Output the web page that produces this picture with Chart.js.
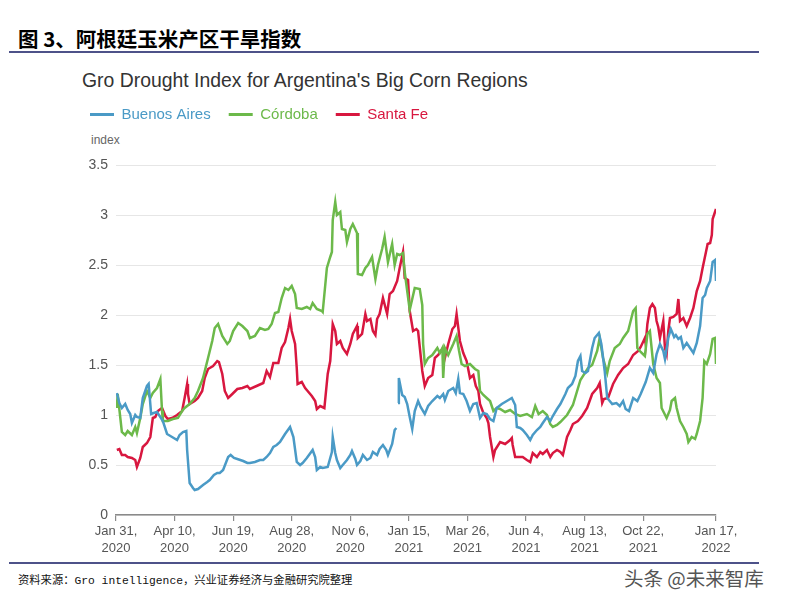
<!DOCTYPE html>
<html>
<head>
<meta charset="utf-8">
<script src="https://cdn.jsdelivr.net/npm/chart.js@4.4.1/dist/chart.umd.min.js"></script>
<style>
  body { margin: 0; background: #fff; width: 786px; height: 603px; position: relative; overflow: hidden; }
  .head { position: absolute; left: 18px; top: 23px; font: bold 20.5px "Noto Sans CJK SC", sans-serif; color: #000; }
  .rule { position: absolute; left: 9px; width: 750px; height: 2px; background: #4d5289; }
  .title { position: absolute; left: 82px; top: 69px; font: 19.4px "Liberation Sans", Arial, sans-serif; color: #333; }
  .unit { position: absolute; left: 91px; top: 133px; font: 12px "Liberation Sans", Arial, sans-serif; color: #666; }
  .src { position: absolute; left: 18px; top: 571px; font: 11.3px "Liberation Mono", "Noto Sans CJK SC", monospace; color: #111; }
  .mark { position: absolute; left: 624px; top: 563px; font: 19.5px "Noto Sans CJK SC", sans-serif; color: #555; }
  #wrap { position: absolute; left: 0; top: 60px; width: 786px; height: 500px; }
</style>
</head>
<body>
<div class="head">图 3、阿根廷玉米产区干旱指数</div>
<div class="rule" style="top:51px"></div>
<div class="title">Gro Drought Index for Argentina's Big Corn Regions</div>
<div class="unit">index</div>
<div id="wrap"><canvas id="myChart"></canvas></div>
<div class="rule" style="top:562px"></div>
<div class="src">资料来源：Gro intelligence，兴业证券经济与金融研究院整理</div>
<div class="mark">头条 @未来智库</div>
<script>
// days since Jan 31, 2020
var tickDays = [0, 70, 140, 210, 280, 350, 420, 490, 560, 630, 717];
var tickLabels = [['Jan 31,', '2020'], ['Apr 10,', '2020'], ['Jun 19,', '2020'], ['Aug 28,', '2020'], ['Nov 6,', '2020'],
    ['Jan 15,', '2021'], ['Mar 26,', '2021'], ['Jun 4,', '2021'], ['Aug 13,', '2021'], ['Oct 22,', '2021'], ['Jan 17,', '2022']];
var yTicks = [0, 0.5, 1, 1.5, 2, 2.5, 3, 3.5];

var baDays = [1, 4, 7, 11, 14, 17, 19, 23, 25, 29, 32, 37, 39, 42, 45, 49, 53, 56, 61, 67, 73, 76, 80, 84, 85, 88, 92, 94, 98, 104,
    109, 112, 117, 121, 124, 128, 134, 137, 141, 145, 152, 157, 160, 166, 172, 176, 180, 184, 188, 192, 196, 202, 208, 212, 216,
    220, 223, 228, 235, 238, 240, 244, 247, 253, 258, 259, 262, 264, 268, 271, 276, 280, 282, 286, 288, 292, 295, 300, 304, 307,
    312, 315, 319, 323, 325, 330, 333, 335, 336, 337, 338, 342, 345, 348, 351, 354, 357, 361, 364, 369, 373, 378, 384, 387, 391,
    393, 397, 403, 406, 409, 411, 415, 419, 423, 427, 431, 435, 439, 443, 447, 451, 455, 461, 467, 473, 477, 479, 483, 486, 491,
    495, 498, 503, 507, 510, 515, 519, 522, 527, 531, 537, 540, 545, 549, 552, 555, 557, 561, 564, 569, 572, 577, 580, 584, 587,
    590, 593, 598, 602, 606, 609, 613, 618, 623, 627, 630, 633, 638, 642, 646, 650, 654, 656, 660, 663, 667, 669, 672, 675, 678,
    682, 686, 690, 694, 698, 701, 704, 706, 710, 713, 716, 717];
var baIndex = [1.22, 1.12, 1.07, 1.11, 1.05, 1.01, 0.92, 1.0, 0.98, 0.97, 1.17, 1.29, 1.31, 1.01, 1.02, 1.03, 0.98, 0.94, 0.81, 0.78,
    0.75, 0.8, 0.83, 0.84, 0.65, 0.32, 0.27, 0.25, 0.26, 0.3, 0.33, 0.35, 0.4, 0.42, 0.42, 0.45, 0.58, 0.6, 0.57, 0.56, 0.54, 0.52,
    0.52, 0.53, 0.55, 0.55, 0.58, 0.62, 0.68, 0.7, 0.73, 0.81, 0.88, 0.78, 0.53, 0.5, 0.52, 0.57, 0.65, 0.58, 0.45, 0.48, 0.47,
    0.48, 0.63, 0.78, 0.62, 0.55, 0.47, 0.5, 0.55, 0.6, 0.64, 0.56, 0.5, 0.54, 0.6, 0.55, 0.57, 0.63, 0.6, 0.66, 0.7, 0.65, 0.6,
    0.71, 0.85, 0.87, null, 1.12, 1.37, 1.2, 1.18, 1.11, 0.98, 0.86, 1.04, 1.14, 1.08, 1.01, 1.09, 1.14, 1.19, 1.17, 1.21, 1.15,
    1.24, 1.27, 1.22, 1.36, 1.22, 1.21, 1.14, 1.04, 1.11, 1.12, 0.97, 1.02, 1.01, 0.96, 0.94, 1.07, 1.11, 1.14, 1.17, 1.1, 0.88,
    0.87, 0.85, 0.8, 0.75, 0.8, 0.85, 0.88, 0.92, 0.98, 0.94, 0.99, 1.06, 1.11, 1.21, 1.27, 1.31, 1.39, 1.54, 1.59, 1.44, 1.42,
    1.44, 1.67, 1.77, 1.82, 1.71, 1.44, 1.17, 1.14, 1.11, 1.12, 1.09, 1.14, 1.06, 1.04, 1.17, 1.14, 1.21, 1.27, 1.33, 1.47, 1.42,
    1.61, 1.71, 1.64, 1.56, 1.77, 1.86, 1.78, 1.8, 1.76, 1.78, 1.67, 1.72, 1.67, 1.62, 1.72, 1.89, 2.17, 2.2, 2.27, 2.34, 2.53,
    2.55, 2.34];

var cordobaDays = [1, 2, 7, 11, 14, 19, 23, 25, 29, 32, 37, 41, 44, 49, 53, 55, 56, 62, 68, 74, 79, 82, 88, 94, 98, 104, 110, 115,
    118, 122, 127, 133, 136, 140, 146, 151, 157, 160, 166, 172, 178, 182, 186, 190, 194, 198, 202, 206, 210, 214, 216, 222, 228,
    232, 235, 240, 246, 247, 252, 256, 258, 259, 262, 264, 268, 270, 274, 276, 280, 283, 288, 289, 294, 298, 301, 306, 310, 313,
    318, 321, 325, 330, 333, 336, 339, 343, 345, 351, 357, 363, 366, 367, 369, 373, 378, 384, 387, 390, 391, 393, 397, 403, 407,
    410, 413, 417, 423, 429, 433, 435, 439, 443, 447, 451, 455, 459, 465, 471, 477, 483, 491, 497, 501, 505, 510, 515, 519, 522,
    527, 531, 539, 546, 555, 564, 569, 575, 578, 582, 587, 590, 596, 602, 606, 612, 618, 621, 623, 627, 632, 635, 638, 642, 646,
    650, 652, 658, 662, 664, 668, 670, 674, 678, 682, 684, 688, 692, 694, 698, 701, 703, 706, 710, 713, 716, 717];
var cordobaIndex = [1.07, 1.21, 0.83, 0.8, 0.84, 0.8, 0.88, 0.82, 0.97, 1.11, 1.24, 1.17, 1.22, 1.27, 1.36, 1.04, 0.94, 0.94, 0.96,
    0.97, 1.04, 1.07, 1.11, 1.17, 1.24, 1.37, 1.57, 1.74, 1.87, 1.91, 1.79, 1.71, 1.74, 1.84, 1.92, 1.89, 1.84, 1.77, 1.79, 1.87,
    1.85, 1.86, 1.91, 2.02, 2.03, 2.17, 2.27, 2.25, 2.29, 2.21, 2.07, 2.06, 2.08, 2.06, 2.12, 2.06, 2.04, 2.03, 2.47, 2.58, 2.63,
    2.95, 3.13, 3.0, 3.03, 2.86, 2.85, 2.73, 2.86, 2.91, 2.82, 2.41, 2.4, 2.47, 2.5, 2.58, 2.36, 2.5, 2.66, 2.78, 2.53, 2.71, 2.5,
    2.61, 2.6, 2.62, 2.43, 2.05, 2.27, 2.26, 2.1, 1.71, 1.51, 1.57, 1.6, 1.67, 1.62, 1.67, 1.37, 1.67, 1.6, 1.71, 1.79, 1.64, 1.51,
    1.49, 1.51, 1.46, 1.44, 1.24, 1.2, 1.17, 1.14, 1.04, 1.07, 1.06, 1.03, 1.05, 1.01, 0.99, 1.01, 0.98, 1.09, 1.01, 1.04, 1.0,
    0.91, 0.88, 0.9, 0.93, 1.0, 1.1, 1.35, 1.47, 1.5, 1.64, 1.77, 1.57, 1.42, 1.54, 1.67, 1.71, 1.77, 1.84, 2.04, 2.07, 1.67,
    1.63, 1.59, 1.81, 1.84, 1.51, 1.37, 1.32, 1.07, 0.97, 1.05, 1.14, 1.17, 1.07, 0.94, 0.88, 0.81, 0.73, 0.78, 0.76, 0.81, 0.94,
    1.17, 1.54, 1.51, 1.61, 1.76, 1.77, 1.51];

var santaFeDays = [1, 4, 7, 11, 14, 19, 23, 25, 29, 32, 37, 41, 44, 47, 50, 55, 59, 62, 67, 73, 79, 82, 85, 86, 88, 94, 98, 103, 106,
    110, 116, 121, 123, 127, 130, 134, 139, 145, 151, 157, 160, 168, 176, 180, 184, 188, 194, 198, 202, 206, 208, 210, 214, 216,
    217, 222, 226, 229, 234, 238, 240, 244, 249, 253, 256, 259, 262, 264, 268, 271, 276, 280, 283, 288, 289, 294, 298, 300, 304,
    307, 310, 312, 315, 319, 324, 327, 331, 336, 339, 343, 345, 349, 351, 355, 359, 361, 366, 369, 373, 378, 381, 385, 390, 393,
    397, 402, 405, 407, 411, 415, 419, 423, 427, 430, 433, 435, 439, 443, 445, 447, 451, 453, 459, 465, 471, 473, 474, 477, 483,
    486, 491, 495, 498, 503, 507, 510, 515, 519, 522, 527, 531, 534, 539, 543, 546, 552, 557, 563, 569, 575, 578, 581, 583, 588,
    594, 600, 606, 612, 618, 624, 627, 632, 633, 635, 638, 641, 644, 646, 648, 650, 654, 656, 658, 660, 662, 666, 670, 672, 674,
    678, 682, 686, 690, 694, 698, 701, 705, 707, 710, 712, 713, 717];
var santaFeIndex = [0.65, 0.66, 0.6, 0.6, 0.58, 0.57, 0.55, 0.48, 0.57, 0.68, 0.72, 0.78, 0.97, 0.98, 1.04, 1.07, 0.99, 0.96, 0.97,
    1.0, 1.04, 1.17, 1.31, 1.21, 1.11, 1.14, 1.17, 1.24, 1.37, 1.46, 1.49, 1.54, 1.53, 1.41, 1.24, 1.17, 1.21, 1.26, 1.27, 1.29,
    1.26, 1.29, 1.32, 1.44, 1.38, 1.52, 1.52, 1.67, 1.73, 1.87, 1.96, 1.84, 1.71, 1.47, 1.31, 1.33, 1.27, 1.24, 1.19, 1.14, 1.06,
    1.09, 1.07, 1.41, 1.54, 1.91, 1.84, 1.71, 1.74, 1.67, 1.61, 1.71, 1.81, 1.89, 1.77, 1.81, 2.01, 1.94, 1.96, 1.84, 1.8, 1.96,
    2.01, 2.17, 2.01, 2.21, 2.24, 2.34, 2.47, 2.63, 2.37, 2.35, 2.04, 1.84, 1.86, 1.84, 1.44, 1.29, 1.37, 1.4, 1.57, 1.6, 1.66,
    1.57, 1.71, 1.86, 1.89, 2.01, 1.74, 1.62, 1.54, 1.37, 1.4, 1.29, 1.24, 1.11, 1.02, 0.97, 0.92, 0.78, 0.58, 0.65, 0.73, 0.71,
    0.75, 0.77, 0.7, 0.58, 0.58, 0.58, 0.55, 0.53, 0.62, 0.58, 0.63, 0.61, 0.65, 0.58, 0.62, 0.65, 0.63, 0.6, 0.78, 0.85, 0.91,
    0.94, 0.99, 1.07, 1.21, 1.27, 1.32, 1.12, 1.16, 1.17, 1.31, 1.4, 1.47, 1.51, 1.6, 1.64, 1.68, 1.77, 1.71, 1.91, 2.07, 2.11,
    2.07, 1.94, 1.88, 1.77, 1.94, 1.67, 1.61, 1.84, 1.97, 1.98, 2.01, 2.16, 1.94, 1.97, 1.89, 1.97, 2.07, 2.24, 2.34, 2.47, 2.63,
    2.71, 2.72, 2.8, 2.96, 3.06];

var colors = ['#4a9ac6', '#6cb94a', '#d8173f'];

function pairs(days, vals) {
    var out = [];
    days.forEach(function (d, i) {
        out.push({ x: d, y: vals[i] });
    });
    return out;
}

var datasets = [
    { label: 'Buenos Aires', data: pairs(baDays, baIndex) },
    { label: 'Córdoba', data: pairs(cordobaDays, cordobaIndex) },
    { label: 'Santa Fe', data: pairs(santaFeDays, santaFeIndex) }
];
datasets.forEach(function (ds, c) {
    ds.borderColor = colors[c];
    ds.backgroundColor = colors[c];
    ds.borderWidth = 2.5;
    ds.pointRadius = 0;
    ds.tension = 0;
    ds.spanGaps = false;
});

// extra room between the legend and the plot
var legendGap = {
    id: 'legendGap',
    beforeInit: function (chart) {
        var fit = chart.legend.fit;
        chart.legend.fit = function () {
            fit.bind(chart.legend)();
            this.height += 33;
        };
    }
};

var ctx = document.getElementById('myChart').getContext('2d');
var lineChart = new Chart(ctx, {
    type: 'line',
    data: { datasets: datasets },
    plugins: [legendGap],
    options: {
        responsive: true,
        maintainAspectRatio: false,
        animation: false,
        layout: { padding: { left: 72, right: 70, top: 29, bottom: 0 } },
        plugins: {
            tooltip: { enabled: false },
            legend: {
                align: 'start',
                labels: {
                    boxWidth: 24,
                    boxHeight: 3,
                    padding: 18,
                    font: { family: 'Liberation Sans', size: 15 },
                    generateLabels: function (chart) {
                        return chart.data.datasets.map(function (ds, i) {
                            return {
                                text: ds.label,
                                fillStyle: colors[i],
                                strokeStyle: colors[i],
                                fontColor: colors[i],
                                lineWidth: 0,
                                datasetIndex: i
                            };
                        });
                    }
                }
            }
        },
        scales: {
            x: {
                type: 'linear',
                min: 0,
                max: 717,
                afterBuildTicks: function (scale) {
                    scale.ticks = tickDays.map(function (d) { return { value: d }; });
                },
                afterFit: function (scale) { scale.height = 45; },
                grid: { drawOnChartArea: false, drawTicks: true, tickLength: 6, color: '#8a8a8a', lineWidth: 1.2 },
                border: { color: '#8a8a8a', width: 1.5 },
                ticks: {
                    autoSkip: false,
                    maxRotation: 0,
                    padding: 2,
                    color: '#555',
                    font: { family: 'Liberation Sans', size: 13, lineHeight: 1.3 },
                    callback: function (v) {
                        var k = tickDays.indexOf(v);
                        return k < 0 ? '' : tickLabels[k];
                    }
                }
            },
            y: {
                min: 0,
                max: 3.5,
                afterBuildTicks: function (scale) {
                    scale.ticks = yTicks.map(function (v) { return { value: v }; });
                },
                afterFit: function (scale) { scale.width = 44; },
                grid: { color: '#e6e6e6', lineWidth: 1, drawTicks: false },
                border: { display: false },
                ticks: {
                    padding: 8,
                    color: '#555',
                    font: { family: 'Liberation Sans', size: 14 },
                    callback: function (v) { return String(v); }
                }
            }
        }
    }
});
</script>
</body>
</html>
